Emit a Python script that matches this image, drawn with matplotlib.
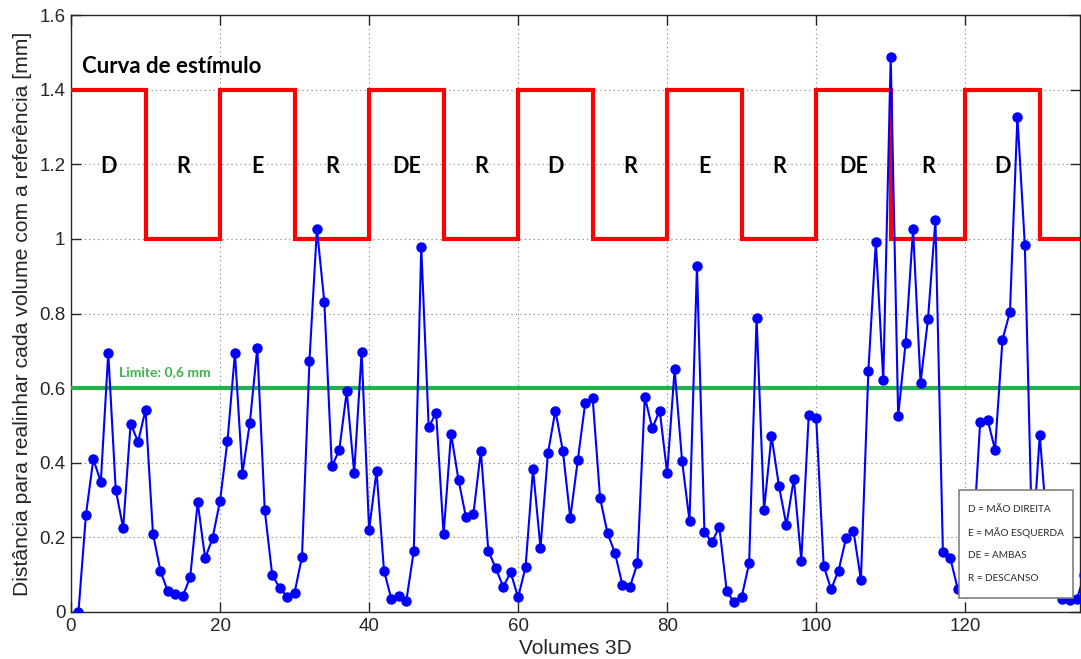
import matplotlib
matplotlib.use("Agg")
import matplotlib.pyplot as plt
from matplotlib.patches import Rectangle
import numpy as np

# distance per 3D volume (mm), volumes 1..136
volumes = np.arange(1, 137)
distance = [
    0.0, 0.26, 0.41, 0.348, 0.695, 0.328, 0.225, 0.505, 0.456, 0.542,
    0.21, 0.11, 0.055, 0.049, 0.042, 0.094, 0.294, 0.144, 0.198, 0.298,
    0.459, 0.694, 0.371, 0.507, 0.708, 0.273, 0.099, 0.065, 0.041, 0.052,
    0.148, 0.674, 1.027, 0.830, 0.39, 0.434, 0.591, 0.373, 0.697, 0.22,
    0.378, 0.111, 0.034, 0.043, 0.03, 0.164, 0.979, 0.495, 0.534, 0.208,
    0.478, 0.354, 0.254, 0.262, 0.432, 0.164, 0.117, 0.068, 0.106, 0.039,
    0.121, 0.383, 0.172, 0.425, 0.540, 0.432, 0.252, 0.407, 0.560, 0.574,
    0.305, 0.211, 0.158, 0.072, 0.067, 0.130, 0.577, 0.492, 0.540, 0.372,
    0.651, 0.405, 0.244, 0.928, 0.215, 0.187, 0.228, 0.055, 0.026, 0.041,
    0.130, 0.788, 0.273, 0.472, 0.338, 0.233, 0.357, 0.138, 0.528, 0.519,
    0.124, 0.061, 0.111, 0.198, 0.218, 0.086, 0.646, 0.992, 0.621, 1.487,
    0.525, 0.722, 1.026, 0.614, 0.785, 1.051, 0.162, 0.144, 0.061, 0.05,
    0.17, 0.508, 0.515, 0.435, 0.730, 0.804, 1.327, 0.983, 0.17, 0.474,
    0.22, 0.08, 0.035, 0.033, 0.036, 0.1,
]

# stimulus blocks (10 volumes each)
stim_edges = np.arange(0, 150, 10)
stim_levels = [1.4, 1.0, 1.4, 1.0, 1.4, 1.0, 1.4, 1.0, 1.4, 1.0, 1.4, 1.0, 1.4, 1.0]
stim_labels = ['D', 'R', 'E', 'R', 'DE', 'R', 'D', 'R', 'E', 'R', 'DE', 'R', 'D']
limit = 0.6

legend_lines = ['D = MÃO DIREITA', 'E = MÃO ESQUERDA', 'DE = AMBAS', 'R = DESCANSO']

plt.rcParams['font.family'] = ['Liberation Sans', 'DejaVu Sans']

fig = plt.figure(figsize=(10.81, 6.59), dpi=100)
ax = fig.add_axes([71 / 1081, 1 - 612 / 659, 1009 / 1081, 597 / 659])

ax.stairs(stim_levels, stim_edges, color='red', lw=3, baseline=None, zorder=3)
ax.axhline(limit, color='#22b14c', lw=3, zorder=3)
ax.plot(volumes, distance, color='blue', lw=1.5, marker='o', ms=6.5, zorder=4)

for i, lab in enumerate(stim_labels):
    xc = (stim_edges[i] + stim_edges[i + 1]) / 2
    ax.text(xc, 1.195, lab, ha='center', va='center', fontsize=15.5,
            fontweight='bold', family='Lato', color='black', zorder=5)

ax.text(1.5, 1.462, 'Curva de estímulo', ha='left', va='center', fontsize=16,
        fontweight='bold', family='Lato', color='black')
ax.text(6.5, 0.642, 'Limite: 0,6 mm', ha='left', va='center', fontsize=10,
        fontweight='bold', family='Lato', color='#3cb44b')

# legend box drawn by hand
ax.add_patch(Rectangle((0.880, 0.0235), 0.113, 0.181, transform=ax.transAxes,
                       facecolor='white', edgecolor='#808080', lw=1.2, zorder=6))
for k, line in enumerate(legend_lines):
    ax.text(0.8887, 0.1725 - k * 0.0387, line, transform=ax.transAxes,
            ha='left', va='center', fontsize=7.2, family='Lato',
            color='#2a2a2a', zorder=7)

ax.set_xlim(0, 135.4)
ax.set_ylim(0, 1.6)
ax.set_xticks(np.arange(0, 121, 20))
yt = np.arange(0, 1.61, 0.2)
ax.set_yticks(yt)
ax.set_yticklabels(['0', '0.2', '0.4', '0.6', '0.8', '1', '1.2', '1.4', '1.6'])

ax.grid(True, color='#7f7f7f', linestyle=(0, (1, 3)), lw=0.8)
ax.set_axisbelow(True)
ax.tick_params(direction='in', length=7, width=1, top=True, right=True,
               labelsize=13.5, labelcolor='#262626', color='#262626', pad=4)
for s in ax.spines.values():
    s.set_color('#262626')
    s.set_linewidth(1)

ax.set_xlabel('Volumes 3D', fontsize=15, color='#262626', labelpad=3)
ax.set_ylabel('Distância para realinhar cada volume com a referência [mm]',
              fontsize=15.2, color='#262626', labelpad=5)

fig.savefig('out.png', dpi=100)
